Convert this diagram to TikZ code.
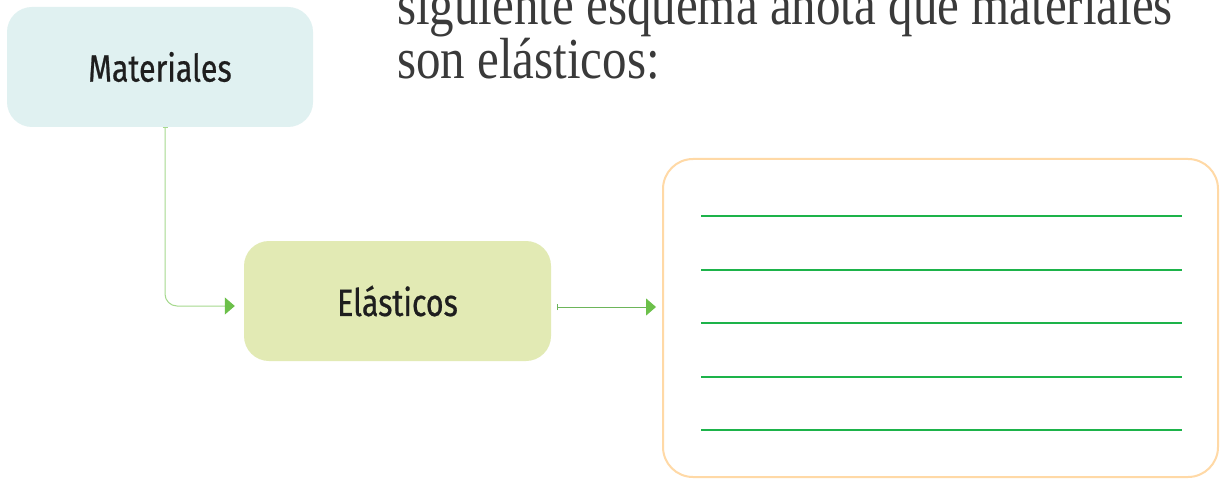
\documentclass[tikz,border=0pt]{standalone}
\usepackage{fontspec}
\setmainfont{Liberation Serif}
\newfontfamily\boxfont[FakeStretch=0.8,FakeBold=0.6]{Fira Sans}
\newfontfamily\headfont[FakeStretch=0.845]{Liberation Serif}
\usetikzlibrary{arrows.meta,calc}
\definecolor{matfill}{HTML}{E0F1F1}
\definecolor{elafill}{HTML}{E2EAB4}
\definecolor{boxedge}{HTML}{FFD9A6}
\definecolor{writeline}{HTML}{1DB34A}
\definecolor{linkA}{HTML}{A6D98E}
\definecolor{linkB}{HTML}{6DB55A}
\definecolor{tipgreen}{HTML}{6CC04A}
\definecolor{textdark}{HTML}{1E1E1E}
\definecolor{headgray}{HTML}{3A3A3A}
\tikzset{
  conceptbox/.style={rectangle, rounded corners=25pt, inner sep=0pt,
    font=\boxfont\fontsize{38}{42}\selectfont, text=textdark},
  answerbox/.style={rectangle, rounded corners=30pt, draw=boxedge, line width=2pt, inner sep=0pt},
  linkarrow/.style={line width=1pt},
  headtext/.style={anchor=base west, inner sep=0pt, font=\headfont\fontsize{58}{62}\selectfont, text=headgray},
  ruleline/.style={draw=writeline, line width=1.4pt}
}
\begin{document}
\begin{tikzpicture}[x=1pt,y=-1pt]
\clip (0,0) rectangle (1222,481);
\fill[white] (0,0) rectangle (1222,481);
\node[headtext] (h1) at (397,25) {siguiente esquema anota qué materiales};
\node[headtext] (h2) at (397,79) {son elásticos:};
\node[conceptbox, fill=matfill, minimum width=306pt, minimum height=120pt] (mat) at (160,67) {Materiales};
\node[conceptbox, fill=elafill, minimum width=307pt, minimum height=120pt] (ela) at (397.5,301) {Elásticos};
\node[answerbox, minimum width=555pt, minimum height=318pt] (ans) at (940.5,318) {};
\coordinate (a1) at ([xshift=5pt]mat.south);
\coordinate (a2) at ([yshift=-5pt,xshift=-9pt]ela.west);
\draw[linkarrow, draw=linkA, rounded corners=12pt, {Bar[width=5pt,color=linkA]}-{Triangle[length=10pt,width=17pt,color=tipgreen]}] (a1) |- (a2);
\coordinate (b1) at ([xshift=6pt,yshift=-6pt]ela.east);
\coordinate (b2) at ([xshift=-6pt]b1 -| ans.west);
\draw[linkarrow, draw=linkB, {Bar[width=6pt,color=linkB]}-{Triangle[length=10pt,width=17pt,color=tipgreen]}] (b1) -- (b2);
\foreach \yy in {216,270,323,377,430}{
  \draw[ruleline] (701,\yy) -- (1182,\yy);
}
\end{tikzpicture}
\end{document}
